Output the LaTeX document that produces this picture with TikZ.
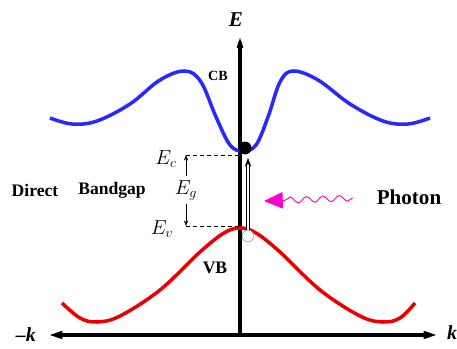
\documentclass[tikz,border=0pt]{standalone}
\usepackage{fontspec}
\setmainfont{Liberation Serif}
\usepackage{tikz}
\usetikzlibrary{arrows.meta,decorations.pathmorphing}
\definecolor{cbblue}{RGB}{40,40,255}
\definecolor{vbred}{RGB}{235,0,0}
\definecolor{photonpink}{RGB}{255,0,204}

\begin{document}
\begin{tikzpicture}[x=0.03cm, y=-0.03cm, >=Stealth,
    axis/.style={line width=4pt},
    band/.style={line width=3pt, smooth, tension=0.6},
    lbl/.style={font=\bfseries\fontsize{15}{18}\selectfont},
    level/.style={dashed, thick},
    photon/.style={photonpink, thick, decorate,
      decoration={snake, amplitude=2.5pt, segment length=14pt, post length=12pt},
      -{Triangle[length=16pt, width=14pt]}}]
    \useasboundingbox (0,0) rectangle (457,349);

    % ================= AXES =================
    \coordinate (kneg) at (50,335);
    \coordinate (kpos) at (436,335);
    \coordinate (orig) at (240,335);
    \coordinate (etop) at (240,38);
    \draw[axis, {Stealth[length=26pt, width=18pt, inset=20pt]}-{Stealth[length=26pt, width=18pt, inset=20pt]}] (kneg) -- (kpos);
    \draw[axis, -{Stealth[length=20pt, width=14pt, inset=15pt]}] (orig) -- (etop);
    \node[font=\bfseries\itshape\fontsize{18}{20}\selectfont] (elabel) at (236,20) {E};
    \node[font=\bfseries\itshape\fontsize{17}{20}\selectfont, anchor=east] (kleft) at (40,335) {\textendash k};
    \node[font=\bfseries\itshape\fontsize{17}{20}\selectfont, anchor=west] (kright) at (443,333) {k};

    % ================= BANDS =================
    \draw[band, cbblue] plot coordinates {(50,118) (72,124) (97,121) (130,104) (160,80) (185,71)
      (201,82) (216,117) (230,145) (243,151) (256,145) (268,117) (280,82) (293,71) (318,80)
      (350,104) (383,121) (408,124) (430,118)};
    \draw[band, vbred] plot coordinates {(62,303) (80,318) (97,322) (120,316) (160,290) (200,252)
      (224,233) (240,228) (256,233) (280,252) (320,290) (360,316) (383,322) (400,318) (415,303)};
    \node[font=\bfseries\fontsize{12}{14}\selectfont] (cb) at (218,76) {CB};
    \node[lbl] (vb) at (215,268) {VB};

    % electron and hole
    \node[circle, fill=black, inner sep=0pt, minimum size=11pt] (elec) at (245,148) {};
    \node[circle, draw=gray, fill=white, inner sep=0pt, minimum size=10pt] (hole) at (248,236) {};
    \draw[double, double distance=2.5pt, thin, ->] (hole.north) -- (248,158);

    % ================= GAP =================
    \coordinate (ecleft) at (186,155);
    \coordinate (ecright) at (238,155);
    \coordinate (evleft) at (186,226);
    \coordinate (evright) at (238,226);
    \draw[level] (ecleft) -- (ecright);
    \draw[level] (evleft) -- (evright);
    \node[font=\fontsize{18}{20}\selectfont] (ec) at (166,159) {$E_c$};
    \node[font=\fontsize{18}{20}\selectfont] (ev) at (162,229) {$E_v$};
    \node[font=\fontsize{18}{20}\selectfont] (eg) at (186,190) {$E_g$};
    \draw[thin, ->] (eg.north) -- (ecleft);
    \draw[thin, ->] (eg.south) -- (evleft);

    \node[lbl] (direct) at (35,190) {Direct};
    \node[lbl] (bandgap) at (112,190) {Bandgap};

    % ================= PHOTON =================
    \node[font=\bfseries\fontsize{18}{20}\selectfont] (phot) at (409,197) {Photon};
    \coordinate (phtip) at (264,201);
    \draw[photon] (phot.west) ++(-20,1) coordinate (phsrc) -- (phtip);

\end{tikzpicture}
\end{document}
